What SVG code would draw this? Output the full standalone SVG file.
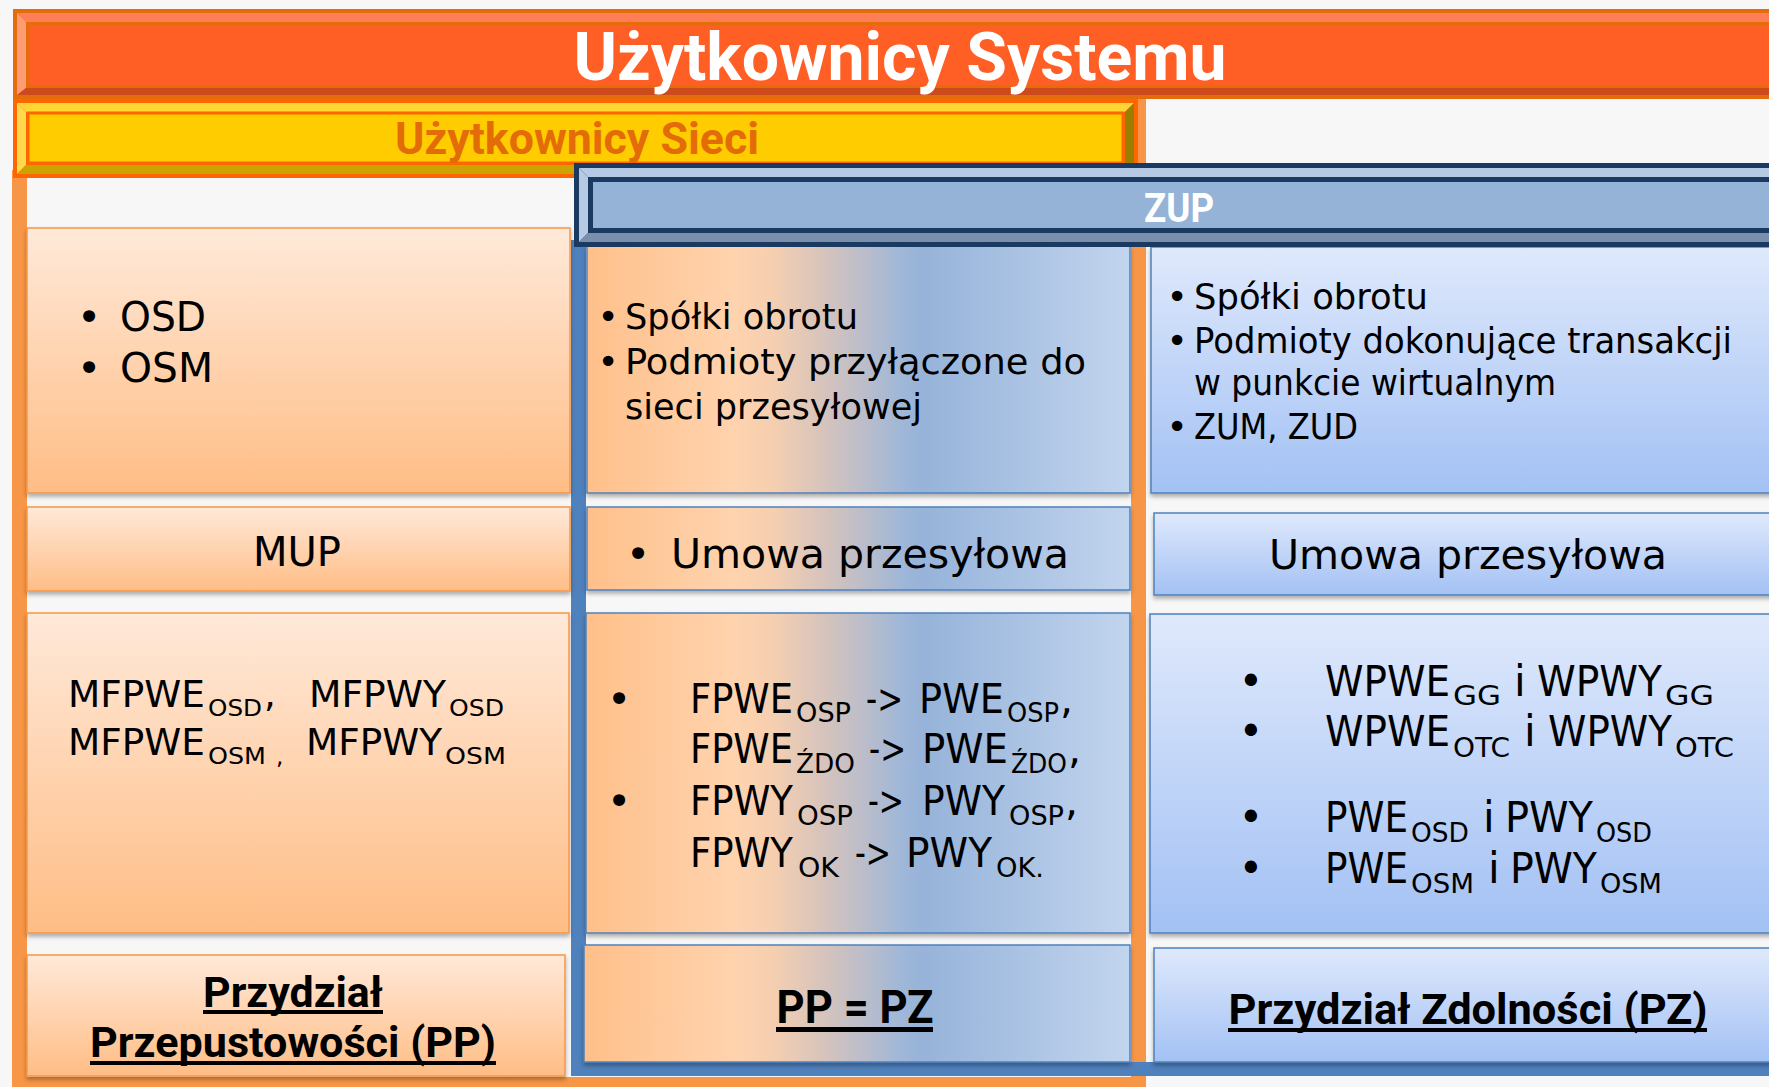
<svg xmlns="http://www.w3.org/2000/svg" width="1769" height="1087" viewBox="0 0 1769 1087">
  <style>
    .tx { font-family: "DejaVu Sans", "Liberation Sans", sans-serif; fill: #000; }
    .hd { font-family: Roboto, "Liberation Sans", sans-serif; font-weight: 700; }
    .s23 { font-size: 23px; }
    .s26 { font-size: 26px; }
    .s27 { font-size: 27px; }
    .s36 { font-size: 36px; }
    .s37 { font-size: 37px; }
    .s41 { font-size: 41px; }
    .s42 { font-size: 42px; }
    .cell-or { fill: url(#gOr); stroke: #F79646; stroke-width: 1.5; filter: url(#sh); }
    .cell-mix { fill: url(#gMix); stroke: #4F81BD; stroke-width: 1.5; filter: url(#sh); }
    .cell-bl { fill: url(#gBl); stroke: #4F81BD; stroke-width: 1.5; filter: url(#sh); }
    .ul { fill: #000; }
  </style>
  <defs>
    <linearGradient id="gOr" x1="0" y1="0" x2="0" y2="1">
      <stop offset="0" stop-color="#FFE9D9"/>
      <stop offset="1" stop-color="#FFBD85"/>
    </linearGradient>
    <linearGradient id="gBl" x1="0" y1="0" x2="0" y2="1">
      <stop offset="0" stop-color="#DFE9FC"/>
      <stop offset="1" stop-color="#A3C1F4"/>
    </linearGradient>
    <linearGradient id="gMix" gradientUnits="userSpaceOnUse" x1="587" y1="0" x2="1130" y2="0">
      <stop offset="0" stop-color="#FFC08A"/>
      <stop offset="0.27" stop-color="#FFD3AE"/>
      <stop offset="0.34" stop-color="#F6CFB0"/>
      <stop offset="0.44" stop-color="#D5C3BD"/>
      <stop offset="0.51" stop-color="#BBBDCA"/>
      <stop offset="0.58" stop-color="#9FB7D8"/>
      <stop offset="0.62" stop-color="#97B3D9"/>
      <stop offset="0.73" stop-color="#A2BDE0"/>
      <stop offset="0.87" stop-color="#B3C9E7"/>
      <stop offset="1" stop-color="#C2D5EF"/>
    </linearGradient>
    <filter id="sh" x="-5%" y="-10%" width="110%" height="125%">
      <feDropShadow dx="0" dy="3" stdDeviation="2" flood-color="#000" flood-opacity="0.3"/>
    </filter>
  </defs>

  <!-- page -->
  <rect x="0" y="0" width="1769" height="1087" fill="#F7F7F7"/>

  <!-- orange frame of the network users area -->
  <g id="frame-sieci" fill="#F79646">
    <rect x="12" y="170" width="15" height="917"/>
    <rect x="1131" y="99" width="15" height="988"/>
    <rect x="12" y="1077" width="1134" height="10"/>
  </g>

  <!-- blue frame of the ZUP area -->
  <g id="frame-zup" fill="#4F81BD">
    <rect x="571" y="240" width="15" height="836"/>
    <rect x="571" y="1062" width="1220" height="14"/>
  </g>

  <!-- left column -->
  <g id="sieci-podmioty">
    <rect class="cell-or" x="27" y="228" width="543" height="265"/>
    <text class="tx s41" x="89" y="331" text-anchor="middle">•</text>
    <text class="tx s41" x="120" y="331" textLength="86" lengthAdjust="spacingAndGlyphs">OSD</text>
    <text class="tx s41" x="89" y="382" text-anchor="middle">•</text>
    <text class="tx s41" x="120" y="382" textLength="93" lengthAdjust="spacingAndGlyphs">OSM</text>
  </g>
  <g id="sieci-umowa">
    <rect class="cell-or" x="27" y="507" width="543" height="84"/>
    <text class="tx s41" x="297" y="566" text-anchor="middle" textLength="88" lengthAdjust="spacingAndGlyphs">MUP</text>
  </g>
  <g id="sieci-funkcje">
    <rect class="cell-or" x="27" y="613" width="542" height="320"/>
    <text class="tx s37" y="707"><tspan x="68" textLength="137" lengthAdjust="spacingAndGlyphs">MFPWE</tspan><tspan class="s23" x="208" y="716" textLength="54" lengthAdjust="spacingAndGlyphs">OSD</tspan><tspan x="264" y="707">,</tspan><tspan x="309" textLength="137" lengthAdjust="spacingAndGlyphs">MFPWY</tspan><tspan class="s23" x="449" y="716" textLength="55" lengthAdjust="spacingAndGlyphs">OSD</tspan></text>
    <text class="tx s37" y="755"><tspan x="68" textLength="137" lengthAdjust="spacingAndGlyphs">MFPWE</tspan><tspan class="s23" x="208" y="764" textLength="58" lengthAdjust="spacingAndGlyphs">OSM</tspan><tspan class="s23" x="276" y="764">,</tspan><tspan x="306" y="755" textLength="136" lengthAdjust="spacingAndGlyphs">MFPWY</tspan><tspan class="s23" x="445" y="764" textLength="61" lengthAdjust="spacingAndGlyphs">OSM</tspan></text>
  </g>
  <g id="sieci-przydzial">
    <rect class="cell-or" x="27" y="955" width="538" height="121"/>
    <text class="hd" font-size="42" x="293" y="1007" text-anchor="middle" textLength="180" lengthAdjust="spacingAndGlyphs">Przydział</text>
    <rect class="ul" x="203" y="1010" width="180" height="4"/>
    <text class="hd" font-size="42" x="293" y="1057" text-anchor="middle" textLength="406" lengthAdjust="spacingAndGlyphs">Przepustowości (PP)</text>
    <rect class="ul" x="90" y="1061" width="406" height="4"/>
  </g>

  <!-- middle column -->
  <g id="wspolne-podmioty">
    <rect class="cell-mix" x="587" y="246" width="543" height="247"/>
    <text class="tx s36" x="608" y="329" text-anchor="middle">•</text>
    <text class="tx s36" x="625" y="329" textLength="233" lengthAdjust="spacingAndGlyphs">Spółki obrotu</text>
    <text class="tx s36" x="608" y="374" text-anchor="middle">•</text>
    <text class="tx s36" x="625" y="374" textLength="461" lengthAdjust="spacingAndGlyphs">Podmioty przyłączone do</text>
    <text class="tx s36" x="625" y="419" textLength="297" lengthAdjust="spacingAndGlyphs">sieci przesyłowej</text>
  </g>
  <g id="wspolne-umowa">
    <rect class="cell-mix" x="587" y="507" width="543" height="83"/>
    <text class="tx s41" x="638" y="568" text-anchor="middle">•</text>
    <text class="tx s41" x="671" y="568" textLength="398" lengthAdjust="spacingAndGlyphs">Umowa przesyłowa</text>
  </g>
  <g id="wspolne-funkcje">
    <rect class="cell-mix" x="586" y="613" width="544" height="320"/>
    <text class="tx s41" x="619" y="713" text-anchor="middle">•</text>
    <text class="tx s41" y="713"><tspan x="690" textLength="103" lengthAdjust="spacingAndGlyphs">FPWE</tspan><tspan class="s26" x="796" y="722" textLength="55" lengthAdjust="spacingAndGlyphs">OSP</tspan><tspan x="866" y="713" textLength="37" lengthAdjust="spacingAndGlyphs">-&gt;</tspan><tspan x="919" textLength="85" lengthAdjust="spacingAndGlyphs">PWE</tspan><tspan class="s26" x="1007" y="722" textLength="52" lengthAdjust="spacingAndGlyphs">OSP</tspan><tspan x="1060" y="713">,</tspan></text>
    <text class="tx s41" y="763"><tspan x="690" textLength="103" lengthAdjust="spacingAndGlyphs">FPWE</tspan><tspan class="s26" x="796" y="773" textLength="59" lengthAdjust="spacingAndGlyphs">ŹDO</tspan><tspan x="869" y="763" textLength="37" lengthAdjust="spacingAndGlyphs">-&gt;</tspan><tspan x="922" textLength="86" lengthAdjust="spacingAndGlyphs">PWE</tspan><tspan class="s26" x="1011" y="773" textLength="56" lengthAdjust="spacingAndGlyphs">ŹDO</tspan><tspan x="1068" y="763">,</tspan></text>
    <text class="tx s41" x="619" y="815" text-anchor="middle">•</text>
    <text class="tx s41" y="815"><tspan x="690" textLength="103" lengthAdjust="spacingAndGlyphs">FPWY</tspan><tspan class="s26" x="797" y="825" textLength="56" lengthAdjust="spacingAndGlyphs">OSP</tspan><tspan x="868" y="815" textLength="36" lengthAdjust="spacingAndGlyphs">-&gt;</tspan><tspan x="922" textLength="83" lengthAdjust="spacingAndGlyphs">PWY</tspan><tspan class="s26" x="1009" y="825" textLength="55" lengthAdjust="spacingAndGlyphs">OSP</tspan><tspan x="1065" y="815">,</tspan></text>
    <text class="tx s41" y="867"><tspan x="690" textLength="103" lengthAdjust="spacingAndGlyphs">FPWY</tspan><tspan class="s26" x="798" y="877" textLength="41" lengthAdjust="spacingAndGlyphs">OK</tspan><tspan x="855" y="867" textLength="36" lengthAdjust="spacingAndGlyphs">-&gt;</tspan><tspan x="906" textLength="86" lengthAdjust="spacingAndGlyphs">PWY</tspan><tspan class="s26" x="996" y="877" textLength="48" lengthAdjust="spacingAndGlyphs">OK.</tspan></text>
  </g>
  <g id="wspolne-przydzial">
    <rect class="cell-mix" x="584" y="945" width="546" height="117"/>
    <text class="hd" font-size="46" x="855" y="1023" text-anchor="middle" textLength="157" lengthAdjust="spacingAndGlyphs">PP = PZ</text>
    <rect class="ul" x="776" y="1027" width="157" height="5"/>
  </g>

  <!-- right column -->
  <g id="zup-podmioty">
    <rect class="cell-bl" x="1151" y="247" width="640" height="246"/>
    <text class="tx s36" x="1177" y="309" text-anchor="middle">•</text>
    <text class="tx s36" x="1194" y="309" textLength="234" lengthAdjust="spacingAndGlyphs">Spółki obrotu</text>
    <text class="tx s36" x="1177" y="353" text-anchor="middle">•</text>
    <text class="tx s36" x="1194" y="353" textLength="538" lengthAdjust="spacingAndGlyphs">Podmioty dokonujące transakcji</text>
    <text class="tx s36" x="1194" y="395" textLength="362" lengthAdjust="spacingAndGlyphs">w punkcie wirtualnym</text>
    <text class="tx s36" x="1177" y="439" text-anchor="middle">•</text>
    <text class="tx s36" x="1194" y="439" textLength="164" lengthAdjust="spacingAndGlyphs">ZUM, ZUD</text>
  </g>
  <g id="zup-umowa">
    <rect class="cell-bl" x="1154" y="513" width="640" height="82"/>
    <text class="tx s41" x="1468" y="569" text-anchor="middle" textLength="398" lengthAdjust="spacingAndGlyphs">Umowa przesyłowa</text>
  </g>
  <g id="zup-funkcje">
    <rect class="cell-bl" x="1150" y="614" width="640" height="319"/>
    <text class="tx s42" x="1251" y="696" text-anchor="middle">•</text>
    <text class="tx s42" y="696"><tspan x="1325" textLength="125" lengthAdjust="spacingAndGlyphs">WPWE</tspan><tspan class="s27" x="1453" y="705" textLength="48" lengthAdjust="spacingAndGlyphs">GG</tspan><tspan x="1514" y="696">i</tspan><tspan x="1537" textLength="125" lengthAdjust="spacingAndGlyphs">WPWY</tspan><tspan class="s27" x="1665" y="705" textLength="49" lengthAdjust="spacingAndGlyphs">GG</tspan></text>
    <text class="tx s42" x="1251" y="746" text-anchor="middle">•</text>
    <text class="tx s42" y="746"><tspan x="1325" textLength="125" lengthAdjust="spacingAndGlyphs">WPWE</tspan><tspan class="s27" x="1453" y="757" textLength="57" lengthAdjust="spacingAndGlyphs">OTC</tspan><tspan x="1524" y="746">i</tspan><tspan x="1548" textLength="124" lengthAdjust="spacingAndGlyphs">WPWY</tspan><tspan class="s27" x="1675" y="757" textLength="59" lengthAdjust="spacingAndGlyphs">OTC</tspan></text>
    <text class="tx s42" x="1251" y="832" text-anchor="middle">•</text>
    <text class="tx s42" y="832"><tspan x="1325" textLength="83" lengthAdjust="spacingAndGlyphs">PWE</tspan><tspan class="s27" x="1411" y="842" textLength="58" lengthAdjust="spacingAndGlyphs">OSD</tspan><tspan x="1483" y="832">i</tspan><tspan x="1505" textLength="88" lengthAdjust="spacingAndGlyphs">PWY</tspan><tspan class="s27" x="1596" y="842" textLength="56" lengthAdjust="spacingAndGlyphs">OSD</tspan></text>
    <text class="tx s42" x="1251" y="883" text-anchor="middle">•</text>
    <text class="tx s42" y="883"><tspan x="1325" textLength="83" lengthAdjust="spacingAndGlyphs">PWE</tspan><tspan class="s27" x="1411" y="893" textLength="63" lengthAdjust="spacingAndGlyphs">OSM</tspan><tspan x="1488" y="883">i</tspan><tspan x="1510" textLength="87" lengthAdjust="spacingAndGlyphs">PWY</tspan><tspan class="s27" x="1600" y="893" textLength="62" lengthAdjust="spacingAndGlyphs">OSM</tspan></text>
  </g>
  <g id="zup-przydzial">
    <rect class="cell-bl" x="1154" y="948" width="640" height="114"/>
    <text class="hd" font-size="42" x="1468" y="1024" text-anchor="middle" textLength="479" lengthAdjust="spacingAndGlyphs">Przydział Zdolności (PZ)</text>
    <rect class="ul" x="1228" y="1028" width="479" height="4"/>
  </g>

  <!-- header: system users -->
  <g id="uzytkownicy-systemu">
    <rect x="13" y="9" width="1800" height="90" fill="#E46C0A"/>
    <polygon points="17,13 1813,13 1813,22 26,22" fill="#FF7E55"/>
    <polygon points="17,13 26,22 26,88 17,95" fill="#FF9C76"/>
    <polygon points="17,95 26,88 1813,88 1813,95" fill="#CC4A1C"/>
    <rect x="27.5" y="23.5" width="1790" height="63" fill="#FF5E24" stroke="#E46C0A" stroke-width="3"/>
    <text class="hd" x="900" y="80" font-size="66" fill="#FFFFFF" text-anchor="middle" textLength="653" lengthAdjust="spacingAndGlyphs">Użytkownicy Systemu</text>
  </g>

  <!-- header: network users -->
  <g id="uzytkownicy-sieci">
    <rect x="13" y="99" width="1125" height="79" fill="#FF6600"/>
    <polygon points="17,103 1134,103 1125,112 26,112" fill="#FFD633"/>
    <polygon points="17,103 26,112 26,165 17,174" fill="#FFD84C"/>
    <polygon points="17,174 26,165 1125,165 1134,174" fill="#CCA300"/>
    <polygon points="1134,103 1134,174 1125,165 1125,112" fill="#9A7E00"/>
    <rect x="28" y="113" width="1095" height="50" fill="#FFCC00" stroke="#FF6600" stroke-width="3"/>
    <text class="hd" x="577" y="154" font-size="44" fill="#E36C09" text-anchor="middle" textLength="364" lengthAdjust="spacingAndGlyphs">Użytkownicy Sieci</text>
  </g>

  <!-- header: ZUP -->
  <g id="zup">
    <rect x="574" y="163" width="1240" height="84" fill="#1B3A61"/>
    <polygon points="579,168 1814,168 1814,177 588,177" fill="#B6CAE3"/>
    <polygon points="579,168 588,177 588,233 579,242" fill="#B6CAE3"/>
    <polygon points="579,242 588,233 1814,233 1814,242" fill="#7A8FAB"/>
    <rect x="590.5" y="179.5" width="1230" height="51" fill="#95B3D7" stroke="#1B3A61" stroke-width="5"/>
    <text class="hd" x="1179" y="222" font-size="41" fill="#FFFFFF" text-anchor="middle" textLength="70" lengthAdjust="spacingAndGlyphs">ZUP</text>
  </g>
</svg>
